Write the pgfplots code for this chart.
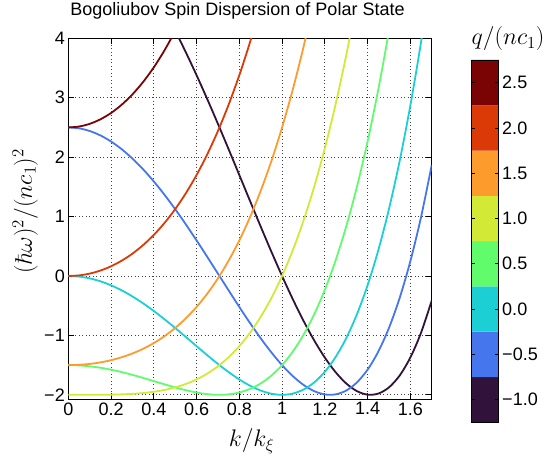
\RequirePackage{fix-cm}
\documentclass[border=0pt]{standalone}
\usepackage[no-math]{fontspec}
\setmainfont{Liberation Sans}
\usepackage{pgfplots}
\pgfplotsset{compat=1.18}
\definecolor{cA}{RGB}{48,18,59}
\definecolor{cB}{RGB}{70,118,238}
\definecolor{cC}{RGB}{27,207,212}
\definecolor{cD}{RGB}{97,252,108}
\definecolor{cE}{RGB}{210,233,53}
\definecolor{cF}{RGB}{254,155,45}
\definecolor{cG}{RGB}{219,58,7}
\definecolor{cH}{RGB}{122,4,3}
\begin{document}
\begin{tikzpicture}[x=1pt,y=1pt]
\path[use as bounding box] (-68.3pt,-64pt) rectangle (482.7pt,399pt);
\begin{axis}[
  at={(0pt,0pt)}, anchor=south west, scale only axis,
  width=363.4pt, height=360.7pt,
  xmin=0, xmax=1.7, ymin=-2.07, ymax=4,
  xtick={0,0.2,0.4,0.6,0.8,1,1.2,1.4,1.6},
  xticklabels={0,0.2,0.4,0.6,0.8,1,1.2,1.4,1.6},
  ytick={-2,-1,0,1,2,3,4},
  yticklabels={−2,−1,0,1,2,3,4},
  grid=major,
  major grid style={black!75, dash pattern=on 0.9pt off 2.6pt, line width=0.7pt},
  tick align=inside, major tick length=6pt,
  tick style={black, line width=0.7pt},
  axis line style={black, line width=0.9pt},
  ticklabel style={font=\fontsize{18}{20}\selectfont},
  every axis plot/.append style={line width=1.8pt, smooth, tension=0.5},
]
\addplot[cA] coordinates {(0,6.000)(0.05,5.980)(0.1,5.920)(0.15,5.821)(0.2,5.683)(0.25,5.508)(0.3,5.296)(0.35,5.050)(0.4,4.771)(0.45,4.462)(0.5,4.125)(0.55,3.763)(0.6,3.379)(0.65,2.977)(0.7,2.560)(0.75,2.133)(0.8,1.699)(0.85,1.264)(0.9,0.832)(0.95,0.409)(1,0)(1.05,-0.389)(1.1,-0.752)(1.15,-1.082)(1.2,-1.373)(1.25,-1.617)(1.3,-1.808)(1.35,-1.937)(1.4,-1.997)(1.45,-1.979)(1.5,-1.875)(1.55,-1.676)(1.6,-1.373)(1.65,-0.956)(1.7,-0.416)};
\addplot[cB] coordinates {(0,2.5)(0.05,2.485)(0.1,2.440)(0.15,2.366)(0.2,2.263)(0.25,2.133)(0.3,1.976)(0.35,1.795)(0.4,1.591)(0.45,1.367)(0.5,1.125)(0.55,0.868)(0.6,0.599)(0.65,0.322)(0.7,0.040)(0.75,-0.242)(0.8,-0.521)(0.85,-0.791)(0.9,-1.048)(0.95,-1.286)(1,-1.5)(1.05,-1.684)(1.1,-1.832)(1.15,-1.937)(1.2,-1.993)(1.25,-1.992)(1.3,-1.928)(1.35,-1.792)(1.4,-1.577)(1.45,-1.274)(1.5,-0.875)(1.55,-0.371)(1.6,0.247)(1.65,0.989)(1.7,1.864)};
\addplot[cC] coordinates {(0,0)(0.05,-0.010)(0.1,-0.040)(0.15,-0.089)(0.2,-0.157)(0.25,-0.242)(0.3,-0.344)(0.35,-0.460)(0.4,-0.589)(0.45,-0.728)(0.5,-0.875)(0.55,-1.027)(0.6,-1.181)(0.65,-1.333)(0.7,-1.480)(0.75,-1.617)(0.8,-1.741)(0.85,-1.846)(0.9,-1.928)(0.95,-1.981)(1,-2)(1.05,-1.979)(1.1,-1.912)(1.15,-1.792)(1.2,-1.613)(1.25,-1.367)(1.3,-1.048)(1.35,-0.647)(1.4,-0.157)(1.45,0.431)(1.5,1.125)(1.55,1.934)(1.6,2.867)(1.65,3.934)(1.7,5.144)};
\addplot[cD] coordinates {(0,-1.5)(0.05,-1.505)(0.1,-1.520)(0.15,-1.544)(0.2,-1.577)(0.25,-1.617)(0.3,-1.664)(0.35,-1.715)(0.4,-1.769)(0.45,-1.823)(0.5,-1.875)(0.55,-1.922)(0.6,-1.961)(0.65,-1.988)(0.7,-2.000)(0.75,-1.992)(0.8,-1.961)(0.85,-1.901)(0.9,-1.808)(0.95,-1.676)(1,-1.5)(1.05,-1.274)(1.1,-0.992)(1.15,-0.647)(1.2,-0.233)(1.25,0.258)(1.3,0.832)(1.35,1.498)(1.4,2.263)(1.45,3.136)(1.5,4.125)(1.55,5.239)};
\addplot[cE] coordinates {(0,-2)(0.05,-2.000)(0.1,-2.000)(0.15,-1.999)(0.2,-1.997)(0.25,-1.992)(0.3,-1.984)(0.35,-1.970)(0.4,-1.949)(0.45,-1.918)(0.5,-1.875)(0.55,-1.817)(0.6,-1.741)(0.65,-1.643)(0.7,-1.520)(0.75,-1.367)(0.8,-1.181)(0.85,-0.956)(0.9,-0.688)(0.95,-0.371)(1,0)(1.05,0.431)(1.1,0.928)(1.15,1.498)(1.2,2.147)(1.25,2.883)(1.3,3.712)(1.35,4.643)};
\addplot[cF] coordinates {(0,-1.5)(0.05,-1.495)(0.1,-1.480)(0.15,-1.454)(0.2,-1.417)(0.25,-1.367)(0.3,-1.304)(0.35,-1.225)(0.4,-1.129)(0.45,-1.013)(0.5,-0.875)(0.55,-0.712)(0.6,-0.521)(0.65,-0.298)(0.7,-0.040)(0.75,0.258)(0.8,0.599)(0.85,0.989)(0.9,1.432)(0.95,1.934)(1,2.5)(1.05,3.136)(1.1,3.848)(1.15,4.643)};
\addplot[cG] coordinates {(0,0)(0.05,0.010)(0.1,0.040)(0.15,0.091)(0.2,0.163)(0.25,0.258)(0.3,0.376)(0.35,0.520)(0.4,0.691)(0.45,0.892)(0.5,1.125)(0.55,1.393)(0.6,1.699)(0.65,2.047)(0.7,2.440)(0.75,2.883)(0.8,3.379)(0.85,3.934)(0.9,4.552)};
\addplot[cH] coordinates {(0,2.5)(0.05,2.515)(0.1,2.560)(0.15,2.636)(0.2,2.743)(0.25,2.883)(0.3,3.056)(0.35,3.265)(0.4,3.511)(0.45,3.797)(0.5,4.125)(0.55,4.498)};
\end{axis}
\begin{axis}[
  at={(402.7pt,-23.3pt)}, anchor=south west, scale only axis,
  width=27.7pt, height=362.3pt,
  xmin=0, xmax=1, ymin=-1.25, ymax=2.75,
  xtick=\empty,
  ytick={-1,-0.5,0,0.5,1,1.5,2,2.5},
  yticklabels={−1.0,−0.5,0.0,0.5,1.0,1.5,2.0,2.5},
  yticklabel pos=right,
  tick align=inside, major tick length=4pt,
  tick style={black, line width=0.7pt},
  axis line style={black, line width=0.9pt},
  ticklabel style={font=\fontsize{18}{20}\selectfont},
  axis on top,
]
\addplot[fill=cA, draw=none] coordinates {(0,-1.25)(1,-1.25)(1,-0.75)(0,-0.75)(0,-1.25)};
\addplot[fill=cB, draw=none] coordinates {(0,-0.75)(1,-0.75)(1,-0.25)(0,-0.25)(0,-0.75)};
\addplot[fill=cC, draw=none] coordinates {(0,-0.25)(1,-0.25)(1,0.25)(0,0.25)(0,-0.25)};
\addplot[fill=cD, draw=none] coordinates {(0,0.25)(1,0.25)(1,0.75)(0,0.75)(0,0.25)};
\addplot[fill=cE, draw=none] coordinates {(0,0.75)(1,0.75)(1,1.25)(0,1.25)(0,0.75)};
\addplot[fill=cF, draw=none] coordinates {(0,1.25)(1,1.25)(1,1.75)(0,1.75)(0,1.25)};
\addplot[fill=cG, draw=none] coordinates {(0,1.75)(1,1.75)(1,2.25)(0,2.25)(0,1.75)};
\addplot[fill=cH, draw=none] coordinates {(0,2.25)(1,2.25)(1,2.75)(0,2.75)(0,2.25)};
\end{axis}
\node[anchor=base, font=\fontsize{18}{20}\selectfont] at (169.2pt,383pt) {Bogoliubov Spin Dispersion of Polar State};
\node[anchor=base, inner sep=0pt, font=\fontsize{24}{26}\selectfont] at (183.2pt,-47.7pt) {$k/k_\xi$};
\node[anchor=base, inner sep=0pt, rotate=90, font=\fontsize{24}{26}\selectfont] at (-36.3pt,188pt) {$(\hbar\omega)^2/(nc_1)^2$};
\node[anchor=base, inner sep=0pt, font=\fontsize{24}{26}\selectfont] at (439.7pt,354pt) {$q/(nc_1)$};
\end{tikzpicture}
\end{document}
